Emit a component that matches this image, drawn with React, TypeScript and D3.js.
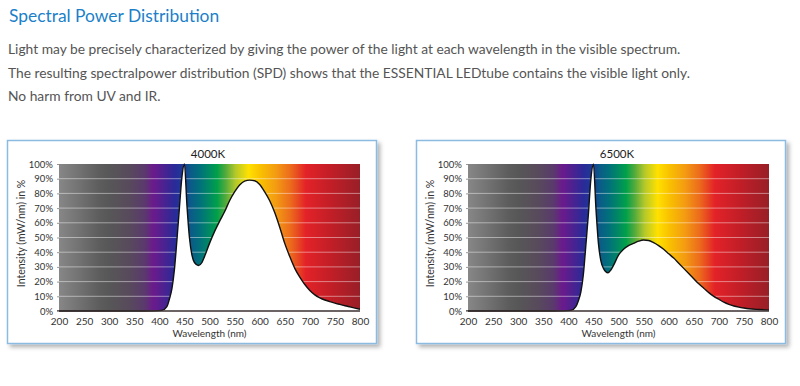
import React, { useEffect, useRef } from "react";
import * as d3 from "d3";

// wavelength (nm) sample points
const wl4000 = [200, 370, 390, 405, 415, 420, 425, 430, 435, 440, 445, 450, 455, 460, 465, 470, 478, 485, 490, 500, 510, 520, 530, 540, 550, 560, 570, 580, 590, 600, 610, 620, 630, 640, 650, 660, 670, 680, 690, 700, 710, 720, 730, 740, 750, 760, 770, 780, 790, 800];
const val4000 = [0, 0, 0.1, 0.4, 3, 8, 15, 28, 48, 70, 91, 100, 72, 50, 38, 33, 31, 33, 37, 46, 54, 61, 67.5, 75, 81, 85.7, 88.4, 89, 88.6, 86, 81, 75, 67, 57, 46, 37, 29, 23, 18, 14, 11, 9, 7.5, 6.4, 5.4, 4.5, 3.6, 2.8, 2, 1.2];

const wl6500 = [200, 370, 390, 405, 415, 420, 425, 430, 435, 440, 445, 450, 455, 460, 465, 470, 479, 485, 490, 500, 510, 520, 530, 540, 550, 560, 570, 580, 590, 600, 610, 620, 630, 640, 650, 660, 670, 680, 690, 700, 710, 720, 730, 740, 750, 760, 780, 800];
const val6500 = [0, 0, 0.1, 0.4, 3, 7, 13, 25, 45, 66, 90, 100, 70, 46, 34, 29, 26, 28, 31, 38, 42, 44.5, 46, 47.5, 48.3, 48, 46.5, 44.5, 42, 39, 36, 32.5, 29, 25.5, 22, 18.5, 15.5, 12.5, 10, 8, 6, 4.5, 3.4, 2.6, 2, 1.5, 1, 0.6];

const xTicks = [200, 250, 300, 350, 400, 450, 500, 550, 600, 650, 700, 750, 800];
const yTicks = [0, 10, 20, 30, 40, 50, 60, 70, 80, 90, 100];

// background spectrum colour stops (nm, colour)
const stopNm = [200, 280, 300, 340, 370, 388, 405, 430, 448, 462, 482, 500, 515, 532, 552, 578, 602, 632, 662, 692, 740, 800];
const stopColor = ["#878787", "#5d5d5d", "#575757", "#584a5c", "#5a3a6c", "#6b1a8c", "#52208f", "#2a2a98", "#1d3a96", "#0b5a88", "#00727a", "#008a62", "#00a04a", "#52aa3c", "#b4c82a", "#ffe100", "#f9c000", "#f39c12", "#ec6a1c", "#e32228", "#c31e27", "#981f27"];

const paragraph = [
  "Light may be precisely characterized by giving the power of the light at each wavelength in the visible spectrum.",
  "The resulting spectralpower distribution (SPD) shows that the ESSENTIAL LEDtube contains the visible light only.",
  "No harm from UV and IR.",
];

function Panel({ dx, title, wl, vals, id }) {
  const ref = useRef(null);

  useEffect(() => {
    const g = d3.select(ref.current);
    g.selectAll("*").remove();

    const left = 59, right = 360, top = 164, bottom = 311;
    const x = d3.scaleLinear().domain([200, 800]).range([left, right]);
    const y = d3.scaleLinear().domain([0, 100]).range([bottom, top]);

    // frame + shadow
    g.append("rect")
      .attr("x", 7.5).attr("y", 140.5).attr("width", 369).attr("height", 203)
      .attr("fill", "#fff")
      .attr("stroke", "#8cbbe2").attr("stroke-width", 1.5)
      .attr("filter", "url(#shadow)");

    const grad = g.append("defs").append("linearGradient")
      .attr("id", "spec" + id)
      .attr("gradientUnits", "userSpaceOnUse")
      .attr("x1", x(200)).attr("x2", x(800)).attr("y1", 0).attr("y2", 0);
    stopNm.forEach((nm, i) => {
      grad.append("stop")
        .attr("offset", (nm - 200) / 600)
        .attr("stop-color", stopColor[i]);
    });

    g.append("rect")
      .attr("x", x(200)).attr("y", y(100))
      .attr("width", x(800) - x(200)).attr("height", y(0) - y(100))
      .attr("fill", `url(#spec${id})`);

    // grid
    g.append("g")
      .selectAll("line")
      .data(yTicks.filter((t) => t > 0 && t < 100))
      .enter()
      .append("line")
      .attr("x1", x(200)).attr("x2", x(800))
      .attr("y1", (d) => y(d)).attr("y2", (d) => y(d))
      .attr("stroke", "rgba(255,255,255,0.45)")
      .attr("stroke-width", 1);

    const pts = wl.map((w, i) => [w, vals[i]]);
    const area = d3.area()
      .x((d) => x(d[0]))
      .y0(y(0))
      .y1((d) => y(d[1]))
      .curve(d3.curveMonotoneX);
    const line = d3.line()
      .x((d) => x(d[0]))
      .y((d) => y(d[1]))
      .curve(d3.curveMonotoneX);

    g.append("path").attr("d", area(pts)).attr("fill", "#fff");
    g.append("path").attr("d", line(pts))
      .attr("fill", "none").attr("stroke", "#111").attr("stroke-width", 1.4);

    // bottom axis line
    g.append("line")
      .attr("x1", x(200) - 2).attr("x2", x(800))
      .attr("y1", y(0)).attr("y2", y(0))
      .attr("stroke", "#3b3030").attr("stroke-width", 1.5);

    // y axis
    const yAxis = g.append("g")
      .attr("transform", `translate(${left},0)`)
      .call(d3.axisLeft(y).tickValues(yTicks).tickSize(2).tickPadding(4).tickFormat((d) => d + "%"));
    yAxis.select(".domain").remove();
    yAxis.selectAll("line").attr("stroke", "#999");
    yAxis.selectAll("text")
      .attr("font-family", "Lato, sans-serif").attr("font-size", 9.5).attr("fill", "#333");

    // x axis
    const xAxis = g.append("g")
      .attr("transform", `translate(0,${bottom})`)
      .call(d3.axisBottom(x).tickValues(xTicks).tickSize(0).tickPadding(7));
    xAxis.select(".domain").remove();
    xAxis.selectAll("text")
      .attr("font-family", "Lato, sans-serif").attr("font-size", 10).attr("fill", "#333");

    g.append("text")
      .attr("x", (left + right) / 2).attr("y", 337)
      .attr("text-anchor", "middle")
      .attr("font-family", "Lato, sans-serif").attr("font-size", 10).attr("fill", "#333")
      .text("Wavelength (nm)");

    g.append("text")
      .attr("transform", `translate(25,${(top + bottom) / 2 - 4}) rotate(-90)`)
      .attr("text-anchor", "middle")
      .attr("font-family", "Lato, sans-serif").attr("font-size", 10.5).attr("fill", "#333")
      .text("Intensity (mW/nm) in %");

    g.append("text")
      .attr("x", 208).attr("y", 158)
      .attr("text-anchor", "middle")
      .attr("font-family", "Lato, sans-serif").attr("font-size", 11.5).attr("fill", "#222")
      .text(title);
  }, [title, wl, vals, id]);

  return <g ref={ref} transform={`translate(${dx},0)`}></g>;
}

export default function App() {
  return (
    <div style={{ position: "absolute", left: 0, top: 0 }}>
      <svg width={800} height={386} style={{ display: "block", background: "#fff" }}>
        <defs>
          <filter id="shadow" x="-5%" y="-5%" width="115%" height="115%">
            <feDropShadow dx="3" dy="3" stdDeviation="2" floodColor="#000" floodOpacity="0.3" />
          </filter>
        </defs>
        <text x={9} y={22} fontFamily="Lato, sans-serif" fontSize={17.4} fill="#1b7fc9">
          Spectral Power Distribution
        </text>
        {paragraph.map((t, i) => (
          <text key={i} x={8} y={54 + i * 23.5} fontFamily="Lato, sans-serif" fontSize={13.8} fill="#555">
            {t}
          </text>
        ))}
        <Panel dx={0} title="4000K" wl={wl4000} vals={val4000} id="a" />
        <Panel dx={409} title="6500K" wl={wl6500} vals={val6500} id="b" />
      </svg>
    </div>
  );
}
